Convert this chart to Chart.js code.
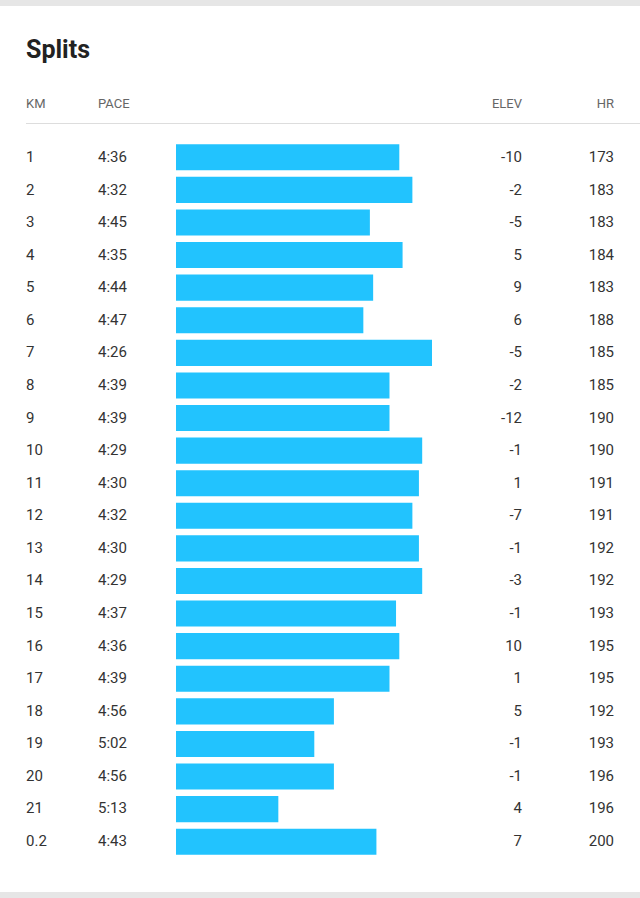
<!DOCTYPE html>
<html><head><meta charset="utf-8">
<script src="https://cdn.jsdelivr.net/npm/chart.js@4"></script>
<style>
body{margin:0;width:640px;height:898px;background:#fff;font-family:Roboto,"Noto Sans",sans-serif;position:relative;overflow:hidden}
#topbar{position:absolute;left:0;top:0;width:640px;height:6px;background:#e6e6e6}
#botbar{position:absolute;left:0;top:892px;width:640px;height:6px;background:#e6e6e6}
h1{position:absolute;left:26px;top:35px;margin:0;font-size:25px;font-weight:700;color:#222}
.hd{position:absolute;top:96px;font-size:13px;color:#666}
#line{position:absolute;left:26px;top:123px;width:614px;height:1px;background:#ddd}
.c{position:absolute;font-size:15px;color:#333;line-height:20px}
#wrap{position:absolute;left:176px;top:141px;width:256px;height:717px}
</style></head><body>
<div id="topbar"></div><div id="botbar"></div>
<h1>Splits</h1>
<div class="hd" style="left:26px">KM</div>
<div class="hd" style="left:98px">PACE</div>
<div class="hd" style="right:118px">ELEV</div>
<div class="hd" style="right:26px">HR</div>
<div id="line"></div>
<div id="rows"></div>
<div id="wrap"><canvas id="c"></canvas></div>
<script>
const km=["1","2","3","4","5","6","7","8","9","10","11","12","13","14","15","16","17","18","19","20","21","0.2"];
const pace=["4:36","4:32","4:45","4:35","4:44","4:47","4:26","4:39","4:39","4:29","4:30","4:32","4:30","4:29","4:37","4:36","4:39","4:56","5:02","4:56","5:13","4:43"];
const elev=[-10,-2,-5,5,9,6,-5,-2,-12,-1,1,-7,-1,-3,-1,10,1,5,-1,-1,4,7];
const hr=[173,183,183,184,183,188,185,185,190,190,191,191,192,192,193,195,195,192,193,196,196,200];
const paceSec=pace.map(p=>{const[a,b]=p.split(":");return +a*60+ +b;});
const rows=document.getElementById('rows');
const step=32.57,y0=157;
km.forEach((k,i)=>{
 const y=y0+i*step-10;
 rows.insertAdjacentHTML('beforeend',
 `<div class="c" style="left:26px;top:${y}px">${k}</div>
  <div class="c" style="left:98px;top:${y}px">${pace[i]}</div>
  <div class="c" style="right:118px;top:${y}px">${elev[i]}</div>
  <div class="c" style="right:26px;top:${y}px">${hr[i]}</div>`);
});
new Chart(document.getElementById('c'),{
 type:'bar',
 data:{labels:km,datasets:[{data:paceSec,base:344.3,backgroundColor:'#22c3fe',borderWidth:0,categoryPercentage:1,barPercentage:0.8}]},
 options:{indexAxis:'y',responsive:true,maintainAspectRatio:false,animation:false,
  layout:{padding:0},
  plugins:{legend:{display:false},tooltip:{enabled:false}},
  scales:{x:{display:false,reverse:true,min:266,max:344.3},y:{display:false}}}
});
</script>
</body></html>
